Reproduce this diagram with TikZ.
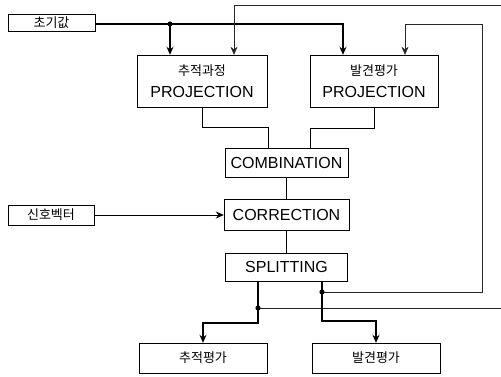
\documentclass[tikz,border=0pt]{standalone}
\usepackage{fontspec}
\setmainfont{Liberation Sans}
\newfontfamily\kr{Noto Sans CJK KR}
\usepackage{tikz}
\usetikzlibrary{arrows, arrows.meta, positioning, calc}

\begin{document}
\begin{tikzpicture}[
    x=1pt, y=-1pt,
    node distance=22pt,
    >={Stealth[length=8pt,width=7pt]},
    box/.style={draw, rectangle, thin, inner sep=0pt, align=center,
      font=\fontsize{16}{22}\selectfont},
    krbox/.style={draw, rectangle, thin, inner sep=0pt, align=center,
      font=\kr\fontsize{13}{15}\selectfont},
    flow/.style={line width=1.3pt,->},
    feed/.style={thin,->, black!85},
    arrow/.style={thick,->}
]
\useasboundingbox (0,0) rectangle (501,377);

% inputs
\node[krbox, minimum width=87pt, minimum height=17pt] (init) at (51.5,23) {초기값};
\node[krbox, minimum width=86pt, minimum height=20pt] (sig) at (51,215) {신호벡터};

% main blocks
\node[box, minimum width=130pt, minimum height=52pt] (proj1) at (202,81)
  {{\kr\fontsize{13}{15}\selectfont 추적과정}\\PROJECTION};
\node[box, minimum width=128pt, minimum height=52pt] (proj2) at (374,81)
  {{\kr\fontsize{13}{15}\selectfont 발견평가}\\PROJECTION};
\node[box, minimum width=123pt, minimum height=29pt] (comb) at (286.5,162.5) {COMBINATION};
\node[box, minimum width=125pt, minimum height=31pt, below=of comb] (corr) {CORRECTION};
\node[box, minimum width=122pt, minimum height=28pt, below=of corr] (split) {SPLITTING};

% outputs
\node[krbox, minimum width=128pt, minimum height=30pt] (trk) at (203,358) {추적평가};
\node[krbox, minimum width=128pt, minimum height=30pt] (det) at (376,358) {발견평가};

% junctions
\coordinate (jA) at (170,24);
\coordinate (sL) at ([xshift=-28.5pt]split.south);
\coordinate (sR) at ([xshift=35.5pt]split.south);
\coordinate (jL) at ($(sL)+(0,27)$);
\coordinate (jR) at ($(sR)+(0,11)$);
\coordinate (inR) at (482,24);
\coordinate (outR) at (503,5);

% initial value
\draw[line width=1.3pt] (init.east |- jA) -- (jA);
\draw[flow] (jA) -| ([xshift=-31pt]proj2.north);
\draw[flow] (jA) -- (jA |- proj1.north);
\fill (jA) circle (2.6pt);

% feedback loops
\draw[feed] (jR) -| (inR) -| ([xshift=31pt]proj2.north);
\draw[feed] (jL) -| (outR) -| ([xshift=32pt]proj1.north);

% projection -> combination -> correction -> splitting
\draw (proj1.south) -- ++(0,20) -| ([xshift=-18.5pt]comb.north);
\draw (proj2.south) -- ++(0,21) -| ([xshift=23.5pt]comb.north);
\draw (comb) -- (corr);
\draw (corr) -- (split);
\draw[arrow] (sig.east) -- (sig.east -| corr.west);

% splitting -> outputs
\draw[flow] (sL) -- ++(0,42) -| (trk.north);
\draw[flow] (sR) -- ++(0,40) -| (det.north);
\fill (jL) circle (2.6pt);
\fill (jR) circle (2.6pt);
\end{tikzpicture}
\end{document}
